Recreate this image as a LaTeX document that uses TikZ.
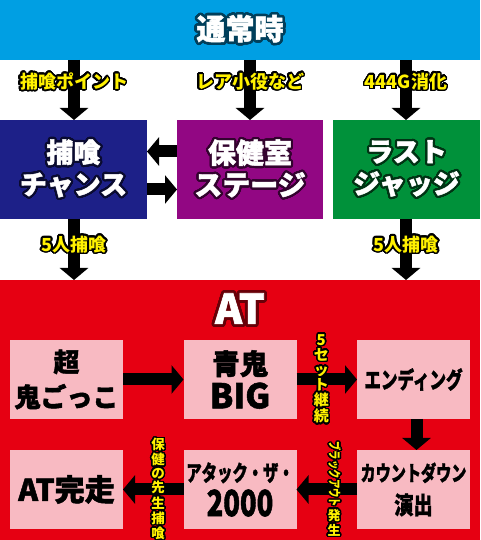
\documentclass[tikz,border=0pt]{standalone}
\usepackage{fontspec}
\setmainfont{Noto Sans CJK JP}[BoldFeatures={FakeBold=1.6}]
\newfontfamily\labelfont{Noto Sans CJK JP}
\usepackage{graphicx}
\usepackage{contour}
\usetikzlibrary{arrows.meta}
\contournumber{32}

\definecolor{topblue}{HTML}{009FE3}
\definecolor{chanceblue}{HTML}{1D2088}
\definecolor{hokenpurple}{HTML}{920783}
\definecolor{judgegreen}{HTML}{00913A}
\definecolor{atred}{HTML}{E60012}
\definecolor{atpink}{HTML}{F8BAC2}
\definecolor{labelyellow}{HTML}{FFF100}

\newcommand\ol[1]{\contour{olc}{#1}}
\newcommand\thin[2][.74]{\scalebox{#1}[1]{#2}}

\tikzset{
  bigarrow/.style={line width=12pt,black,-{Triangle[width=28pt,length=12pt]}},
  topbox/.style={minimum width=#1,minimum height=99pt,inner sep=0pt,outer sep=0pt,
    align=center,text=white},
  atbox/.style={fill=atpink,minimum width=113pt,minimum height=79pt,inner sep=0pt,
    outer sep=0pt,align=center,text=black},
  ylabel/.style={text=labelyellow,inner sep=0pt,align=center,
    font=\labelfont\bfseries\fontsize{18}{18}\selectfont\contourlength{1.6pt}\colorlet{olc}{black}},
  vlabel/.style={ylabel,
    font=\labelfont\bfseries\fontsize{#1}{#1}\selectfont\contourlength{1.4pt}\colorlet{olc}{black}},
}

\begin{document}
\begin{tikzpicture}[x=1pt,y=1pt]
  \useasboundingbox (0,0) rectangle (480,540);
  \fill[white] (0,0) rectangle (480,540);
  \fill[topblue] (0,480) rectangle (480,540);
  \fill[atred] (0,0) rectangle (480,260);

  % titles
  \node[text=white,font=\bfseries\fontsize{29}{29}\selectfont\contourlength{2.6pt}\colorlet{olc}{topblue!40!black}] (normal) at (240,510) {\ol{通常時}};
  \node[text=white,font=\bfseries\fontsize{41}{41}\selectfont\contourlength{2.8pt}\colorlet{olc}{atred!45!black}] (attitle) at (240,230) {\ol{AT}};

  % upper boxes
  \node[topbox=147pt,fill=chanceblue,font=\bfseries\fontsize{27}{32}\selectfont\contourlength{2.2pt}\colorlet{olc}{chanceblue!35!black}] (chance) at (73.5,370.5) {\ol{捕喰}\\\ol{チャンス}};
  \node[topbox=146pt,fill=hokenpurple,font=\bfseries\fontsize{28}{32}\selectfont\contourlength{2.2pt}\colorlet{olc}{hokenpurple!35!black}] (hoken) at (250,370.5) {\ol{保健室}\\\ol{ステージ}};
  \node[topbox=147pt,fill=judgegreen,font=\bfseries\fontsize{27}{32}\selectfont\contourlength{2.2pt}\colorlet{olc}{judgegreen!35!black}] (judge) at (406.5,370.5) {\ol{ラスト}\\\ol{ジャッジ}};

  % AT boxes
  \node[atbox,font=\bfseries\fontsize{26}{35}\selectfont] (oni) at (66.5,160.5) {超\\鬼ごっこ};
  \node[atbox,font=\bfseries\fontsize{28}{34}\selectfont] (big) at (240,160.5) {青鬼\\{\fontsize{34}{34}\selectfont BIG}};
  \node[atbox,font=\bfseries\fontsize{23}{23}\selectfont] (ending) at (413.5,160.5) {\thin[.72]{エンディング}};
  \node[atbox,font=\bfseries\fontsize{21}{33}\selectfont] (countdown) at (413.5,50.5) {\thin[.72]{カウントダウン}\\\thin[.8]{{\fontsize{24}{24}\selectfont 演出}}};
  \node[atbox,font=\bfseries\fontsize{22}{35}\selectfont] (attack) at (240,50.5) {\thin[.7]{アタック・ザ・}\\\thin[.76]{{\fontsize{36}{36}\selectfont 2000}}};
  \node[atbox,font=\bfseries\fontsize{30}{30}\selectfont] (finish) at (66.5,50.5) {AT完走};

  \coordinate (s1) at (74,480);
  \coordinate (s2) at (250,480);
  \coordinate (s3) at (406,480);
  \coordinate (r1) at (74,260);
  \coordinate (r3) at (406,260);

  \draw[bigarrow] (s1) -- (s1 |- chance.north) node[ylabel,pos=.37] {\ol{捕喰ポイント}};
  \draw[bigarrow] (s2) -- (s2 |- hoken.north) node[ylabel,pos=.37] {\ol{レア小役など}};
  \draw[bigarrow] (s3) -- (s3 |- judge.north) node[ylabel,pos=.37] {\ol{444G消化}};

  \draw[bigarrow] ([yshift=18pt]hoken.west) -- ([yshift=18pt]chance.east);
  \draw[bigarrow] ([yshift=-20pt]chance.east) -- ([yshift=-20pt]hoken.west);

  \draw[bigarrow] (r1 |- chance.south) -- (r1) node[ylabel,pos=.43] {\ol{5人捕喰}};
  \draw[bigarrow] (r3 |- judge.south) -- (r3) node[ylabel,pos=.43] {\ol{5人捕喰}};

  % AT flow
  \draw[bigarrow] (oni) -- (big);
  \draw[bigarrow] (big) -- (ending) node[vlabel=15,pos=.41] {\ol{5}\\\ol{セ}\\\ol{ッ}\\\ol{ト}\\\ol{継}\\\ol{続}};
  \draw[bigarrow] ([xshift=3pt]ending.south) -- ([xshift=3pt]countdown.north);
  \draw[bigarrow] (countdown) -- (attack) node[vlabel=13,pos=.38] {\rotatebox{-90}{\thin[.72]{\ol{ブラックアウト}}}\\[1pt]\ol{発}\\\ol{生}};
  \draw[bigarrow] (attack) -- (finish) node[vlabel=13.5,pos=.42] {\ol{保}\\\ol{健}\\\ol{の}\\\ol{先}\\\ol{生}\\\ol{捕}\\\ol{喰}};
\end{tikzpicture}
\end{document}
